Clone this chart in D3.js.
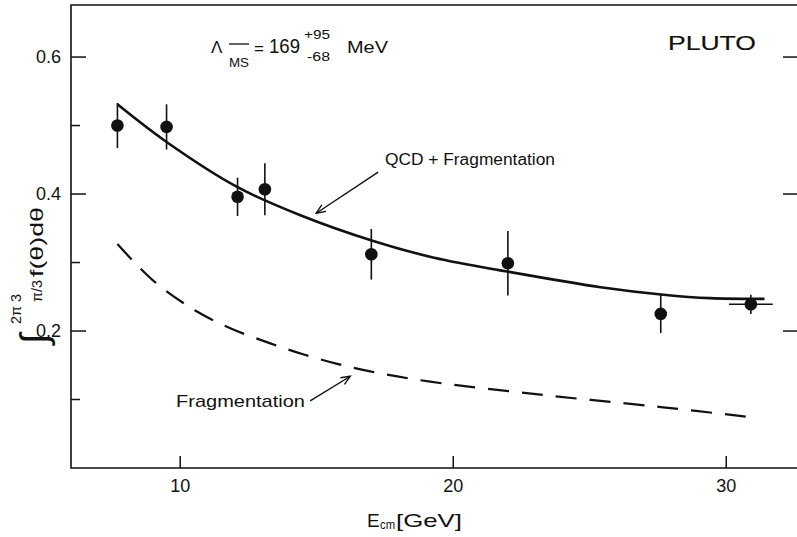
<!DOCTYPE html>
<html>
<head>
<meta charset="utf-8">
<script src="https://cdn.jsdelivr.net/npm/d3@7"></script>
<style>
  html, body { margin: 0; padding: 0; background: #fff; }
  svg { display: block; }
  text { font-family: "Liberation Sans", Arial, sans-serif; fill: #111; }
</style>
</head>
<body>
<svg id="chart" width="797" height="537"></svg>
<script>
// Measured PLUTO points: centre-of-mass energy (GeV), integral value, errors
const energies = [7.7, 9.5, 12.1, 13.1, 17.0, 22.0, 27.6, 30.9];
const values   = [0.500, 0.498, 0.396, 0.407, 0.312, 0.299, 0.225, 0.239];
const errors   = [0.033, 0.033, 0.028, 0.038, 0.037, 0.047, 0.028, 0.014];
const energyErrors = [0, 0, 0, 0, 0, 0, 0, 0.8];

// QCD + fragmentation prediction (solid)
const qcdEnergy = [7.7, 9.5, 12.1, 14.4, 17.1, 19.3, 22.1, 25.4, 27.7, 29.4, 31.4];
const qcdValue  = [0.531, 0.476, 0.410, 0.369, 0.331, 0.307, 0.286, 0.264, 0.253, 0.248, 0.247];

// Fragmentation only (dashed)
const fragEnergy = [7.7, 9.0, 10.55, 11.9, 13.3, 14.5, 15.75, 16.96, 19.16, 23.2, 27.6, 30.95];
const fragValue  = [0.327, 0.274, 0.230, 0.203, 0.182, 0.166, 0.152, 0.141, 0.126, 0.107, 0.089, 0.074];

// Axis ticks
const xTicks = [10, 20, 30];
const xTickLabels = ["10", "20", "30"];
const yMajorTicks = [0.2, 0.4, 0.6];
const yTickLabels = ["0.2", "0.4", "0.6"];
const yMinorTicks = [0.1, 0.3, 0.5];

const svg = d3.select("#chart");
const x = d3.scaleLinear().domain([6, 32.7]).range([71, 800]);
const y = d3.scaleLinear().domain([0, 0.676]).range([468, 5]);

const ink = "#111";

// Frame
const [x0, x1] = x.range();
const [yb, yt] = y.range();
svg.append("path")
  .attr("d", `M${x0},${yb}H${x1}V${yt}H${x0}Z`)
  .attr("fill", "none").attr("stroke", ink).attr("stroke-width", 1.6);

// Left axis ticks (inward)
svg.selectAll(".ymaj").data(yMajorTicks).join("line")
  .attr("x1", x0).attr("x2", x0 + 15)
  .attr("y1", d => y(d)).attr("y2", d => y(d))
  .attr("stroke", ink).attr("stroke-width", 1.5);
svg.selectAll(".ymin").data(yMinorTicks).join("line")
  .attr("x1", x0).attr("x2", x0 + 9)
  .attr("y1", d => y(d)).attr("y2", d => y(d))
  .attr("stroke", ink).attr("stroke-width", 1.5);
// Right axis ticks (inward)
svg.selectAll(".yr").data(yMajorTicks).join("line")
  .attr("x1", x1).attr("x2", x1 - 17)
  .attr("y1", d => y(d)).attr("y2", d => y(d))
  .attr("stroke", ink).attr("stroke-width", 1.5);

svg.selectAll(".ylab").data(yMajorTicks).join("text")
  .attr("x", 61).attr("y", d => y(d) + 6)
  .attr("text-anchor", "end")
  .attr("font-size", 18)
  .text((d, i) => yTickLabels[i]);

// Bottom axis ticks
svg.selectAll(".xt").data(xTicks).join("line")
  .attr("x1", d => x(d)).attr("x2", d => x(d))
  .attr("y1", yb).attr("y2", yb - 12)
  .attr("stroke", ink).attr("stroke-width", 1.5);
svg.selectAll(".xlab").data(xTicks).join("text")
  .attr("x", d => x(d)).attr("y", 492)
  .attr("text-anchor", "middle")
  .attr("font-size", 18)
  .text((d, i) => xTickLabels[i]);

// X axis title: E_cm [GeV]
svg.append("text").attr("x", 367).attr("y", 527).attr("font-size", 19).text("E");
svg.append("text").attr("x", 380).attr("y", 529).attr("font-size", 12)
  .attr("textLength", 15).attr("lengthAdjust", "spacingAndGlyphs").text("cm");
svg.append("text").attr("x", 396).attr("y", 527).attr("font-size", 19)
  .attr("textLength", 66).attr("lengthAdjust", "spacingAndGlyphs").text("[GeV]");

// Y axis title: integral from pi/3 to 2pi/3 of f(theta) d theta
const yg = svg.append("g").attr("transform", "translate(43,338) rotate(-90)");
yg.append("text").attr("x", -6).attr("y", 4).attr("font-size", 38)
  .attr("font-family", "DejaVu Sans").text("∫");
yg.append("text").attr("x", 14).attr("y", -22).attr("font-size", 14)
  .attr("textLength", 30).attr("lengthAdjust", "spacingAndGlyphs")
  .text("2π 3");
yg.append("text").attr("x", 36).attr("y", -1).attr("font-size", 14)
  .attr("textLength", 22).attr("lengthAdjust", "spacingAndGlyphs")
  .text("π/3");
yg.append("text").attr("x", 61).attr("y", 0).attr("font-size", 19)
  .attr("textLength", 70).attr("lengthAdjust", "spacingAndGlyphs")
  .text("f(θ)dθ");

// Curves
const line = d3.line().x(d => x(d[0])).y(d => y(d[1])).curve(d3.curveCatmullRom.alpha(0.5));
svg.append("path")
  .attr("d", line(d3.zip(qcdEnergy, qcdValue)))
  .attr("fill", "none").attr("stroke", ink).attr("stroke-width", 2.6);
svg.append("path")
  .attr("d", line(d3.zip(fragEnergy, fragValue)))
  .attr("fill", "none").attr("stroke", ink).attr("stroke-width", 2.2)
  .attr("stroke-dasharray", "21 13");

// Data points with error bars
const pts = energies.map((e, i) => ({ e, v: values[i], err: errors[i], eErr: energyErrors[i] }));
svg.selectAll(".eb").data(pts).join("line")
  .attr("x1", d => x(d.e)).attr("x2", d => x(d.e))
  .attr("y1", d => y(d.v + d.err)).attr("y2", d => y(d.v - d.err))
  .attr("stroke", ink).attr("stroke-width", 1.6);
svg.selectAll(".ebx").data(pts.filter(d => d.eErr > 0)).join("line")
  .attr("x1", d => x(d.e - d.eErr)).attr("x2", d => x(d.e + d.eErr))
  .attr("y1", d => y(d.v)).attr("y2", d => y(d.v))
  .attr("stroke", ink).attr("stroke-width", 1.6);
svg.selectAll(".pt").data(pts).join("circle")
  .attr("cx", d => x(d.e)).attr("cy", d => y(d.v)).attr("r", 6.3)
  .attr("fill", ink);

// Annotation arrows (tail and tip in data coordinates)
function arrow(tail, tip) {
  const [ax, ay] = [x(tail[0]), y(tail[1])];
  const [bx, by] = [x(tip[0]), y(tip[1])];
  const ang = Math.atan2(by - ay, bx - ax);
  const L = 10, w = 0.4;
  svg.append("line").attr("x1", ax).attr("y1", ay).attr("x2", bx).attr("y2", by)
    .attr("stroke", ink).attr("stroke-width", 1.4);
  svg.append("path")
    .attr("d", `M${bx - L * Math.cos(ang - w)},${by - L * Math.sin(ang - w)}L${bx},${by}L${bx - L * Math.cos(ang + w)},${by - L * Math.sin(ang + w)}`)
    .attr("fill", "none").attr("stroke", ink).attr("stroke-width", 1.4);
}
arrow([17.25, 0.432], [14.98, 0.372]);
arrow([14.76, 0.098], [16.23, 0.134]);

svg.append("text").attr("x", 385).attr("y", 165).attr("font-size", 16)
  .attr("textLength", 170).attr("lengthAdjust", "spacingAndGlyphs")
  .text("QCD + Fragmentation");
svg.append("text").attr("x", 176).attr("y", 407).attr("font-size", 17)
  .attr("textLength", 129).attr("lengthAdjust", "spacingAndGlyphs")
  .text("Fragmentation");

svg.append("text").attr("x", 668).attr("y", 50).attr("font-size", 21)
  .attr("textLength", 88).attr("lengthAdjust", "spacingAndGlyphs")
  .attr("stroke", ink).attr("stroke-width", 0.2)
  .text("PLUTO");

// Lambda_MSbar = 169 +95 -68 MeV
svg.append("text").attr("x", 211).attr("y", 53).attr("font-size", 17).text("Λ");
svg.append("line").attr("x1", 229).attr("x2", 249).attr("y1", 44).attr("y2", 44)
  .attr("stroke", ink).attr("stroke-width", 1.3);
svg.append("text").attr("x", 229).attr("y", 67).attr("font-size", 13)
  .attr("textLength", 20).attr("lengthAdjust", "spacingAndGlyphs").text("MS");
svg.append("text").attr("x", 254).attr("y", 54).attr("font-size", 17).text("=");
svg.append("text").attr("x", 269).attr("y", 53).attr("font-size", 21)
  .attr("textLength", 31).attr("lengthAdjust", "spacingAndGlyphs").text("169");
svg.append("text").attr("x", 304).attr("y", 39).attr("font-size", 12)
  .attr("textLength", 26).attr("lengthAdjust", "spacingAndGlyphs").text("+95");
svg.append("text").attr("x", 307).attr("y", 61).attr("font-size", 12)
  .attr("textLength", 23).attr("lengthAdjust", "spacingAndGlyphs").text("-68");
svg.append("text").attr("x", 347).attr("y", 53).attr("font-size", 17)
  .attr("textLength", 41).attr("lengthAdjust", "spacingAndGlyphs").text("MeV");
</script>
</body>
</html>
